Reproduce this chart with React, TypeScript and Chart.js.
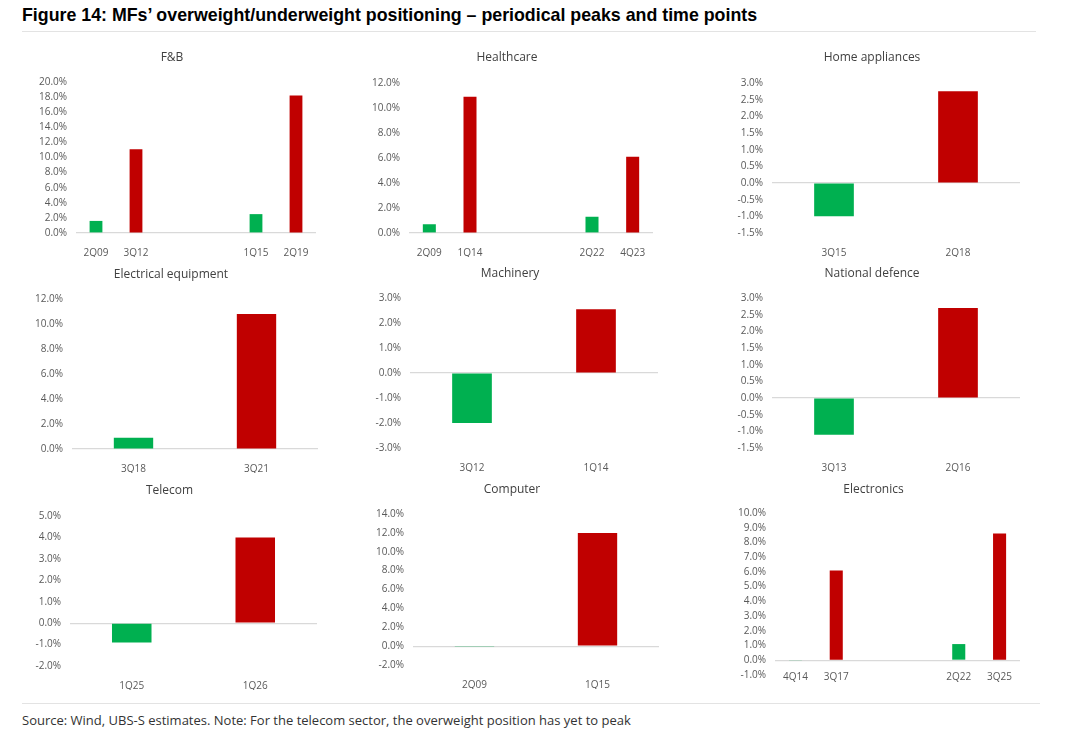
import { useEffect, useRef } from 'react';
import { Chart, registerables } from 'chart.js';

Chart.register(...registerables);

// data (values in %); '' slots are the empty gaps between pairs
const fbLabels = ['2Q09', '3Q12', '', '', '1Q15', '2Q19'];
const fbValues = [1.6, 11.1, null, null, 2.5, 18.2];

const healthLabels = ['2Q09', '1Q14', '', '', '2Q22', '4Q23'];
const healthValues = [0.7, 10.9, null, null, 1.3, 6.1];

const homeLabels = ['3Q15', '2Q18'];
const homeValues = [-1.0, 2.75];

const elecEqLabels = ['3Q18', '3Q21'];
const elecEqValues = [0.9, 10.8];

const machLabels = ['3Q12', '1Q14'];
const machValues = [-2.0, 2.55];

const defenceLabels = ['3Q13', '2Q16'];
const defenceValues = [-1.1, 2.7];

const telecomLabels = ['1Q25', '1Q26'];
const telecomValues = [-0.9, 4.0];

const computerLabels = ['2Q09', '1Q15'];
const computerValues = [-0.1, 12.0];

const electronicsLabels = ['4Q14', '3Q17', '', '', '2Q22', '3Q25'];
const electronicsValues = [-0.05, 6.1, null, null, 1.1, 8.6];

// axis ranges [min, max, step]
const fbAxis = [0, 20, 2];
const healthAxis = [0, 12, 2];
const homeAxis = [-1.5, 3, 0.5];
const elecEqAxis = [0, 12, 2];
const machAxis = [-3, 3, 1];
const defenceAxis = [-1.5, 3, 0.5];
const telecomAxis = [-2, 5, 1];
const computerAxis = [-2, 14, 2];
const electronicsAxis = [-1, 10, 1];

const GREEN = '#00B050';
const RED = '#C00000';
const FOUR = [GREEN, RED, GREEN, GREEN, GREEN, RED];
const TWO = [GREEN, RED];

const YW = 48;

type PanelProps = {
  title: string;
  labels: string[];
  values: (number | null)[];
  axis: number[];
  colors: string[];
  plotLeft: number;
  plotRight: number;
  titleX: number;
  titleY: number;
  top: number;
  bottom: number;
  atZero?: boolean; // category labels next to the zero line
};

const Panel = (p: PanelProps) => {
  const ref = useRef<HTMLCanvasElement>(null);

  const x0 = p.plotLeft - YW;
  const x1 = 2 * p.titleX - x0;
  const y0 = p.titleY - 8;
  const y1 = p.bottom + (p.atZero ? 16 : 24);
  const padR = x1 - p.plotRight;

  useEffect(() => {
    if (!ref.current) return;
    const chart = new Chart(ref.current, {
      type: 'bar',
      data: {
        labels: p.labels,
        datasets: [
          {
            data: p.values,
            backgroundColor: p.colors,
            borderWidth: 0,
            barPercentage: 0.32,
            categoryPercentage: 1,
          },
        ],
      },
      options: {
        animation: false,
        responsive: false,
        layout: { padding: { left: 0, right: padR, top: 0, bottom: p.atZero ? 4 : 0 } },
        plugins: {
          legend: { display: false },
          tooltip: { enabled: false },
          title: {
            display: true,
            text: p.title,
            color: '#404040',
            font: { family: 'Open Sans', size: 12, weight: 'normal' },
            padding: { top: 0, bottom: p.top - y0 - 14.4 },
          },
        },
        scales: {
          x: {
            position: p.atZero ? { y: 0 } : 'bottom',
            grid: { display: false },
            border: { display: false },
            ticks: {
              color: '#595959',
              font: { family: 'Open Sans', size: 10 },
              padding: p.atZero ? 3 : 6,
              maxRotation: 0,
              autoSkip: false,
            },
            afterFit: (s: any) => {
              s.height = 24;
            },
          },
          y: {
            min: p.axis[0],
            max: p.axis[1],
            border: { display: false },
            grid: {
              drawTicks: false,
              color: (c: any) => (c.tick && c.tick.value === 0 ? '#d9d9d9' : 'transparent'),
              lineWidth: 1.2,
            },
            ticks: {
              stepSize: p.axis[2],
              autoSkip: false,
              color: '#595959',
              font: { family: 'Open Sans', size: 10 },
              padding: 9,
              callback: (v: any) => Number(v).toFixed(1) + '%',
            },
            afterFit: (s: any) => {
              s.width = YW;
            },
          },
        },
      },
    });
    return () => chart.destroy();
  }, []);

  return (
    <canvas
      ref={ref}
      width={x1 - x0}
      height={y1 - y0}
      style={{ position: 'absolute', left: x0, top: y0, width: x1 - x0, height: y1 - y0 }}
    />
  );
};

const App = () => {
  return (
    <div
      style={{
        position: 'fixed',
        left: 0,
        top: 0,
        width: 1080,
        height: 738,
        background: '#fff',
        overflow: 'hidden',
      }}
    >
      <div
        style={{
          position: 'absolute',
          left: 22,
          top: 5,
          fontFamily: '"Liberation Sans", sans-serif',
          fontWeight: 'bold',
          fontSize: 17.8,
          color: '#000',
          whiteSpace: 'nowrap',
        }}
      >
        Figure 14: MFs’ overweight/underweight positioning – periodical peaks and time points
      </div>
      <div style={{ position: 'absolute', left: 22, top: 31, width: 1014, height: 1, background: '#e3e3e3' }} />

      <Panel title="F&B" labels={fbLabels} values={fbValues} axis={fbAxis} colors={FOUR}
        plotLeft={76} plotRight={316} titleX={183} titleY={58} top={82} bottom={233} />
      <Panel title="Healthcare" labels={healthLabels} values={healthValues} axis={healthAxis} colors={FOUR}
        plotLeft={409} plotRight={653} titleX={512} titleY={58} top={83} bottom={233} />
      <Panel title="Home appliances" labels={homeLabels} values={homeValues} axis={homeAxis} colors={TWO}
        plotLeft={772} plotRight={1020} titleX={880} titleY={58} top={83} bottom={233} />

      <Panel title="Electrical equipment" labels={elecEqLabels} values={elecEqValues} axis={elecEqAxis} colors={TWO}
        plotLeft={72} plotRight={318} titleX={178} titleY={275} top={299} bottom={449} />
      <Panel title="Machinery" labels={machLabels} values={machValues} axis={machAxis} colors={TWO}
        plotLeft={410} plotRight={658} titleX={518} titleY={274} top={298} bottom={448} />
      <Panel title="National defence" labels={defenceLabels} values={defenceValues} axis={defenceAxis} colors={TWO}
        plotLeft={772} plotRight={1020} titleX={879} titleY={274} top={298} bottom={448} />

      <Panel title="Telecom" labels={telecomLabels} values={telecomValues} axis={telecomAxis} colors={TWO}
        plotLeft={70} plotRight={317} titleX={178} titleY={491} top={516} bottom={666} />
      <Panel title="Computer" labels={computerLabels} values={computerValues} axis={computerAxis} colors={TWO}
        plotLeft={413} plotRight={659} titleX={519} titleY={490} top={514} bottom={665} />
      <Panel title="Electronics" labels={electronicsLabels} values={electronicsValues} axis={electronicsAxis} colors={FOUR}
        plotLeft={775} plotRight={1020} titleX={880} titleY={490} top={513} bottom={674} atZero />

      <div style={{ position: 'absolute', left: 22, top: 703, width: 1018, height: 1, background: '#e3e3e3' }} />
      <div
        style={{
          position: 'absolute',
          left: 22,
          top: 711,
          fontFamily: '"Open Sans", sans-serif',
          fontSize: 13,
          color: '#333',
          whiteSpace: 'nowrap',
        }}
      >
        Source: Wind, UBS-S estimates. Note: For the telecom sector, the overweight position has yet to peak
      </div>
    </div>
  );
};

export default App;
